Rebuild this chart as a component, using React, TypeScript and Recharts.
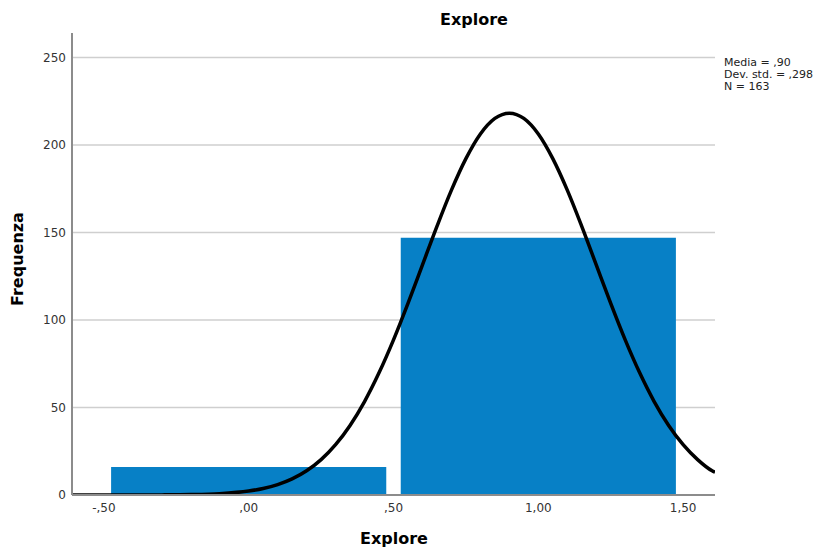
import {
  ComposedChart,
  Line,
  XAxis,
  YAxis,
  CartesianGrid,
  ReferenceArea,
} from 'recharts';

// histogram bins (centre of each bin) and their counts
const binCenters = [0, 1];
const binCounts = [16, 147];

// fitted normal curve
const curveX = [
  -0.61, -0.5, -0.4, -0.3, -0.2, -0.1, 0, 0.05, 0.1, 0.15, 0.2, 0.25, 0.3, 0.35, 0.4, 0.45,
  0.5, 0.55, 0.6, 0.65, 0.7, 0.75, 0.8, 0.85, 0.9, 0.95, 1.0, 1.05, 1.1, 1.15, 1.2, 1.25,
  1.3, 1.35, 1.4, 1.45, 1.5, 1.55, 1.6, 1.61,
];
const curveY = [
  0, 0, 0.02, 0.07, 0.24, 0.78, 2.28, 3.73, 5.94, 9.19, 13.82, 20.22, 28.76, 39.74, 53.4, 69.79,
  88.64, 109.5, 131.5, 153.5, 174.2, 192.2, 206.3, 215.2, 218.2, 215.2, 206.3, 192.2, 174.2, 153.5,
  131.5, 109.5, 88.64, 69.79, 53.4, 39.74, 28.76, 20.22, 13.82, 12.96,
];

const xTicks = [-0.5, 0, 0.5, 1, 1.5];
const yTicks = [0, 50, 100, 150, 200, 250];
const statLines = ['Media = ,90', 'Dev. std. = ,298', 'N = 163'];

const BIN_WIDTH = 1;
const BAR_FILL = 0.95; // fraction of the bin the bar covers
const FONT = '"DejaVu Sans", sans-serif';

const data = curveX.map((x, i) => ({ x, y: curveY[i] }));

const fmt = (v: number) => {
  const s = Math.abs(v).toFixed(2).replace('.', ',').replace(/^0/, '');
  return v < 0 ? '-' + s : s;
};

export default function App() {
  return (
    <div style={{ position: 'absolute', left: 0, top: 0, width: 822, height: 549, background: '#fff' }}>
      <ComposedChart
        width={822}
        height={549}
        data={data}
        margin={{ top: 33, right: 107, left: 0, bottom: 24 }}
      >
        <CartesianGrid horizontal vertical={false} syncWithTicks stroke="#cfcfcf" strokeWidth={1.5} />
        <XAxis
          dataKey="x"
          type="number"
          domain={[-0.61, 1.61]}
          ticks={xTicks}
          tickFormatter={fmt}
          allowDataOverflow
          height={30}
          tickLine={false}
          axisLine={{ stroke: '#8c8c8c', strokeWidth: 2 }}
          tick={{ fontSize: 12, fill: '#333', fontFamily: FONT }}
        />
        <YAxis
          type="number"
          domain={[0, 264]}
          ticks={yTicks}
          allowDataOverflow
          width={72}
          tickLine={false}
          tickSize={4}
          tickMargin={2}
          axisLine={{ stroke: '#8c8c8c', strokeWidth: 2 }}
          tick={{ fontSize: 12, fill: '#333', fontFamily: FONT }}
        />
        {binCenters.map((c, i) => (
          <ReferenceArea
            key={c}
            x1={c - (BIN_WIDTH * BAR_FILL) / 2}
            x2={c + (BIN_WIDTH * BAR_FILL) / 2}
            y1={0}
            y2={binCounts[i]}
            fill="#0780c6"
            fillOpacity={1}
            stroke="none"
          />
        ))}
        <Line
          type="monotone"
          dataKey="y"
          stroke="#000"
          strokeWidth={3.5}
          dot={false}
          activeDot={false}
          isAnimationActive={false}
        />
      </ComposedChart>
      <svg
        width={822}
        height={549}
        style={{ position: 'absolute', left: 0, top: 0, pointerEvents: 'none' }}
        fontFamily={FONT}
      >
        <text x={474} y={25} textAnchor="middle" fontSize={16} fontWeight="bold" fill="#000">
          Explore
        </text>
        <text x={394} y={544} textAnchor="middle" fontSize={16} fontWeight="bold" fill="#000">
          Explore
        </text>
        <text
          transform="translate(23,259) rotate(-90)"
          textAnchor="middle"
          fontSize={16}
          fontWeight="bold"
          fill="#000"
        >
          Frequenza
        </text>
        {statLines.map((t, i) => (
          <text key={t} x={724} y={66 + i * 12} fontSize={11} fill="#222">
            {t}
          </text>
        ))}
      </svg>
    </div>
  );
}
